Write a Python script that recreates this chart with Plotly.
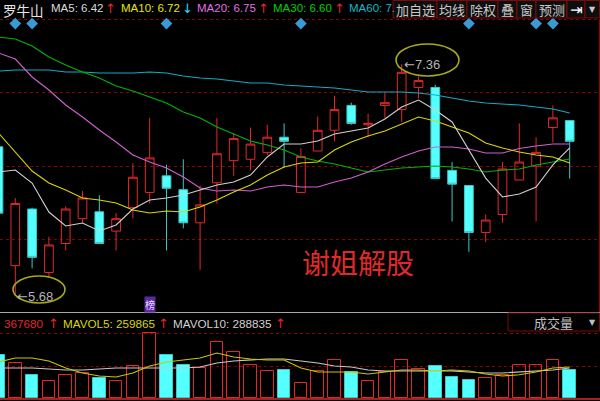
import plotly.graph_objects as go

W, H = 600, 401

# ---------------- data ----------------
idx = list(range(35))
opens = [6.76, 5.90, 6.31, 5.85, 6.06, 6.24, 6.29, 6.15, 6.32, 6.43, 6.55, 6.45, 6.21, 6.50, 6.66, 6.67, 6.72, 6.83,
         6.43, 6.73, 6.88, 7.06, 6.92, 7.06, 7.03, 7.19, 7.19, 6.59, 6.48, 6.14, 6.27, 6.52, 6.62, 6.90, 6.95]
highs = [6.77, 6.39, 6.32, 6.11, 6.33, 6.44, 6.41, 6.28, 6.64, 6.97, 6.63, 6.67, 6.48, 6.97, 6.86, 6.90, 6.92, 6.93,
         6.75, 6.98, 7.13, 7.08, 7.00, 7.15, 7.36, 7.27, 7.21, 6.65, 6.48, 6.27, 6.65, 6.93, 6.83, 7.06, 6.95]
lows = [6.27, 5.68, 5.88, 5.81, 6.01, 6.21, 6.06, 6.01, 6.24, 6.35, 6.01, 6.17, 5.87, 6.35, 6.55, 6.59, 6.70, 6.61,
        6.43, 6.73, 6.80, 6.92, 6.83, 6.97, 6.94, 7.11, 6.53, 6.22, 6.00, 6.07, 6.21, 6.52, 6.22, 6.79, 6.53]
closes = [6.28, 6.35, 5.96, 6.05, 6.31, 6.39, 6.06, 6.24, 6.54, 6.68, 6.46, 6.21, 6.34, 6.71, 6.82, 6.78, 6.83, 6.80,
          6.69, 6.88, 7.03, 6.93, 6.93, 7.08, 7.30, 7.24, 6.53, 6.49, 6.14, 6.23, 6.60, 6.65, 6.72, 6.97, 6.80]

ma5 = [6.578, 6.592, 6.498, 6.288, 6.187, 6.209, 6.151, 6.194, 6.310, 6.375, 6.390, 6.411, 6.448, 6.484, 6.505,
       6.556, 6.687, 6.781, 6.781, 6.802, 6.853, 6.875, 6.897, 6.962, 7.049, 7.099, 7.027, 6.940, 6.737, 6.534,
       6.397, 6.419, 6.469, 6.629, 6.752]
ma10 = [6.860, 6.723, 6.585, 6.498, 6.448, 6.390, 6.375, 6.353, 6.303, 6.281, 6.296, 6.288, 6.324, 6.375, 6.433,
        6.484, 6.556, 6.614, 6.643, 6.650, 6.737, 6.795, 6.839, 6.875, 6.926, 6.976, 6.947, 6.904, 6.860, 6.788,
        6.752, 6.723, 6.701, 6.687, 6.643]
ma20 = [7.440, 7.396, 7.266, 7.172, 7.063, 6.976, 6.882, 6.795, 6.701, 6.650, 6.607, 6.542, 6.462, 6.440, 6.448,
        6.440, 6.469, 6.484, 6.469, 6.469, 6.505, 6.534, 6.578, 6.636, 6.687, 6.730, 6.759, 6.759, 6.745, 6.716,
        6.716, 6.748, 6.766, 6.781, 6.781]
ma30 = [7.555, 7.541, 7.490, 7.411, 7.353, 7.302, 7.259, 7.201, 7.164, 7.121, 7.078, 7.012, 6.969, 6.904, 6.853,
        6.802, 6.773, 6.737, 6.687, 6.658, 6.636, 6.607, 6.578, 6.592, 6.607, 6.614, 6.621, 6.614, 6.600, 6.578,
        6.592, 6.600, 6.629, 6.650, 6.672]
ma60 = [7.309, 7.317, 7.317, 7.317, 7.302, 7.302, 7.295, 7.295, 7.295, 7.302, 7.295, 7.273, 7.259, 7.251, 7.237,
        7.222, 7.222, 7.208, 7.201, 7.193, 7.186, 7.172, 7.157, 7.157, 7.157, 7.150, 7.136, 7.114, 7.092, 7.078,
        7.070, 7.063, 7.049, 7.034, 7.005]

vols = [479000, 390000, 256000, 189000, 256000, 279000, 223000, 189000, 357000, 724000, 479000, 368000, 334000,
        624000, 513000, 368000, 301000, 312000, 167000, 301000, 423000, 290000, 189000, 290000, 423000, 323000,
        357000, 234000, 201000, 223000, 256000, 367680, 368000, 423000, 312000]
mavol5 = [401000, 446000, 446000, 412000, 334000, 279000, 245000, 234000, 279000, 357000, 401000, 423000, 446000,
          501000, 457000, 435000, 423000, 423000, 334000, 290000, 290000, 290000, 267000, 290000, 312000, 312000,
          301000, 312000, 301000, 267000, 245000, 259865, 290000, 334000, 345000]
mavol10 = [334000, 334000, 334000, 323000, 312000, 312000, 323000, 334000, 334000, 334000, 334000, 334000, 345000,
           390000, 412000, 423000, 435000, 435000, 412000, 390000, 357000, 345000, 312000, 301000, 301000, 301000,
           301000, 301000, 290000, 279000, 279000, 288835, 301000, 312000, 334000]

info_marks = [1, 2, 10, 18, 28, 32, 33]      # blue diamonds (info mine)
board_mark = 9                               # "榜" badge
high_idx, high_val = 24, 7.36
low_idx, low_val = 1, 5.68

stock_name = "罗牛山"
header_items = [("MA5: 6.42", "↑"), ("MA10: 6.72", "↓"), ("MA20: 6.75", "↑"), ("MA30: 6.60", "↑"), ("MA60: 7.", "")]
vol_header_items = [("367680", "↑"), ("MAVOL5: 259865", "↑"), ("MAVOL10: 288835", "↑")]
buttons = ["加自选", "均线", "除权", "叠", "窗", "预测", "⇥", "▼"]
watermark = "谢姐解股"

# ---------------- styling ----------------
RED = "#e2282a"
CYAN = "#54ffff"
CYAN_EDGE = "#3fc8c8"
C_MA5 = "#d0d0d0"
C_MA10 = "#d8d800"
C_MA20 = "#d060d0"
C_MA30 = "#00b400"
C_MA60 = "#14aac4"
LAT = "Liberation Sans, Arial, sans-serif"
CJK = "Noto Sans CJK SC"
GRID = "#8a0000"


def px(x):
    return x / W


def py(y):
    return 1 - y / H


fig = go.Figure()

fig.add_trace(go.Candlestick(
    x=idx, open=opens, high=highs, low=lows, close=closes,
    increasing=dict(line=dict(color=RED, width=1), fillcolor="rgba(0,0,0,0)"),
    decreasing=dict(line=dict(color=CYAN_EDGE, width=1), fillcolor=CYAN),
    whiskerwidth=0, hoverinfo="skip", showlegend=False, xaxis="x", yaxis="y"))

for data, col in [(ma60, C_MA60), (ma30, C_MA30), (ma20, C_MA20), (ma10, C_MA10), (ma5, C_MA5)]:
    fig.add_trace(go.Scatter(x=idx, y=data, mode="lines", line=dict(color=col, width=1.1),
                             hoverinfo="skip", showlegend=False, xaxis="x", yaxis="y"))

fig.add_trace(go.Scatter(x=info_marks, y=[7.653] * len(info_marks), mode="markers",
                         marker=dict(symbol="diamond", size=9, color="#3a9ad6"),
                         cliponaxis=False, hoverinfo="skip", showlegend=False, xaxis="x", yaxis="y"))

up = [c >= o for o, c in zip(opens, closes)]
fig.add_trace(go.Bar(
    x=idx, y=vols, width=0.74,
    marker=dict(color=["rgba(0,0,0,0)" if u else CYAN for u in up],
                line=dict(color=[RED if u else CYAN_EDGE for u in up], width=1)),
    hoverinfo="skip", showlegend=False, xaxis="x", yaxis="y2"))
fig.add_trace(go.Scatter(x=idx, y=mavol10, mode="lines", line=dict(color="#c8c8c8", width=1.1),
                         hoverinfo="skip", showlegend=False, xaxis="x", yaxis="y2"))
fig.add_trace(go.Scatter(x=idx, y=mavol5, mode="lines", line=dict(color="#c8c800", width=1.1),
                         hoverinfo="skip", showlegend=False, xaxis="x", yaxis="y2"))

shapes = []
for gy in [19.5, 92.5, 166.5, 239.5, 333.5, 366.5]:
    shapes.append(dict(type="line", xref="paper", yref="paper", x0=0, x1=1, y0=py(gy), y1=py(gy),
                       line=dict(color=GRID, width=1, dash="dot"), layer="below"))
shapes.append(dict(type="line", xref="paper", yref="paper", x0=0, x1=1, y0=py(312.5), y1=py(312.5),
                   line=dict(color="#a8a8a8", width=1)))
shapes.append(dict(type="line", xref="paper", yref="paper", x0=0, x1=1, y0=py(399), y1=py(399),
                   line=dict(color=RED, width=1.5)))
shapes.append(dict(type="line", xref="paper", yref="paper", x0=px(599.5), x1=px(599.5), y0=py(19), y1=py(312),
                   line=dict(color="#a00000", width=1)))
# ellipses around the high / low labels
shapes.append(dict(type="circle", xref="paper", yref="paper", x0=px(396), x1=px(459), y0=py(76), y1=py(44),
                   line=dict(color="#a8a81c", width=1.6)))
shapes.append(dict(type="circle", xref="paper", yref="paper", x0=px(13), x1=px(65), y0=py(303), y1=py(276),
                   line=dict(color="#a8a81c", width=1.6)))
# toolbar buttons
edges = [393, 437, 467, 498, 517, 536, 567, 585, 599.5]
for a, b in zip(edges[:-1], edges[1:]):
    shapes.append(dict(type="rect", xref="paper", yref="paper", x0=px(a), x1=px(b), y0=py(18), y1=py(0.5),
                       line=dict(color="#7a0c0c", width=1), fillcolor="#0e0e0e"))
shapes.append(dict(type="rect", xref="paper", yref="paper", x0=px(508), x1=px(599.5), y0=py(331), y1=py(313),
                   line=dict(color="#7a0c0c", width=1), fillcolor="#000000"))

ann = []


def txt(x, y, text, color, size, family=LAT, xanchor="left", xref="paper", yref="paper", **kw):
    ann.append(dict(x=x, y=y, xref=xref, yref=yref, text=text, showarrow=False, xanchor=xanchor,
                    yanchor="middle", font=dict(color=color, size=size, family=family), **kw))


# header line
txt(px(1), py(9.5), stock_name, "#e6e6e6", 13.5, CJK)
hx = [(49, 103), (119, 180), (195, 256), (271, 332), (347, None)]
hcol = ["#dcdcdc", "#e6e600", "#e070e0", "#00d000", "#10b8c8"]
arrow_col = {"↑": RED, "↓": "#30d8ff"}
for (label, arr), (x0, xa), col in zip(header_items, hx, hcol):
    txt(px(x0), py(8.5), label, col, 11.5)
    if arr:
        txt(px(xa), py(8.5), arr, arrow_col[arr], 13, "DejaVu Sans")

# buttons text
for (a, b), label in zip(zip(edges[:-1], edges[1:]), buttons):
    size = 13
    col = "#c8c8c8"
    fam = CJK
    if label == "⇥":
        size, col, fam = 15, "#ffffff", "DejaVu Sans"
    if label == "▼":
        size, col, fam = 8, "#c8c8c8", "DejaVu Sans"
    txt(px((a + b) / 2), py(9.5), label, col, size, fam, xanchor="center")

# high / low labels
ARW = "<span style='font-family:DejaVu Sans'>←</span>"
txt(high_idx, high_val, ARW + f"{high_val:.2f}", "#b4b4b4", 13, LAT, xref="x", yref="y")
txt(low_idx, low_val, ARW + f"{low_val:.2f}", "#b4b4b4", 13, LAT, xref="x", yref="y")

# watermark
txt(px(300), py(262), watermark, "#e02a2a", 28, CJK)

# board badge
ann.append(dict(x=board_mark, y=py(304), xref="x", yref="paper", text="榜", showarrow=False,
                font=dict(color="#e8dcff", size=10, family=CJK), bgcolor="#5a2a9e", borderpad=0,
                xanchor="center", yanchor="middle"))

# volume header
vx = [(2, 46), (61, 156), (171, 273)]
vcol = [RED, "#d8d800", "#d0d0d0"]
for (label, arr), (x0, xa), col in zip(vol_header_items, vx, vcol):
    txt(px(x0), py(323), label, col, 11.7)
    txt(px(xa), py(323), arr, RED, 13, "DejaVu Sans")
txt(px(553), py(322.5), "成交量", "#c0c0c0", 13, CJK, xanchor="center")
txt(px(592), py(322), "▼", "#c0c0c0", 8, "DejaVu Sans", xanchor="center")

fig.update_layout(
    width=W, height=H, margin=dict(l=0, r=0, t=0, b=0),
    paper_bgcolor="#000000", plot_bgcolor="#000000", showlegend=False,
    boxgap=0.26, bargap=0, hovermode=False,
    xaxis=dict(range=[0.0893, 35.804], visible=False, rangeslider=dict(visible=False), fixedrange=True),
    yaxis=dict(domain=[py(311), py(19)], range=[5.5714, 7.6859], visible=False, fixedrange=True),
    yaxis2=dict(domain=[py(399), py(331)], range=[-11142, 746514], visible=False, anchor="x", fixedrange=True),
    shapes=shapes, annotations=ann,
)

fig.write_html("out.html", config={"displayModeBar": False},
               post_script="document.body.style.margin='0px';document.body.style.overflow='hidden';"
                           "document.body.style.background='#000';")
